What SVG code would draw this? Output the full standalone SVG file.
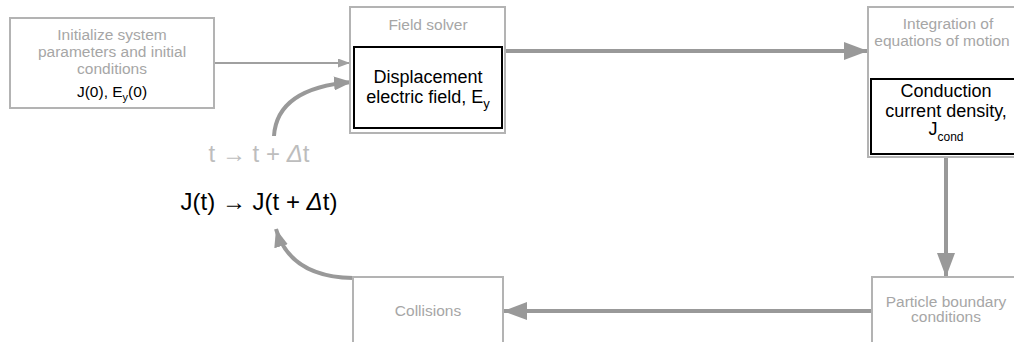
<svg xmlns="http://www.w3.org/2000/svg" width="1014" height="342" viewBox="0 0 1014 342">
<style>
.box{fill:#fff;stroke:#b3b3b3;stroke-width:2}
.inner{fill:#fff;stroke:#000;stroke-width:2}
.gt{font-family:"Liberation Sans",Arial,sans-serif;font-size:15.5px;fill:#a6a6a6;text-anchor:middle}
.bt{font-family:"Liberation Sans",Arial,sans-serif;font-size:15.5px;fill:#000;text-anchor:middle}
.big{font-family:"Liberation Sans",Arial,sans-serif;font-size:18px;fill:#000;text-anchor:middle}
.eq{font-family:"Liberation Sans",Arial,sans-serif;font-size:24px;text-anchor:middle}
.thin{fill:none;stroke:#a0a0a0;stroke-width:2}
.thick{fill:none;stroke:#999;stroke-width:4}
</style>
<defs>
<marker id="ah" markerUnits="userSpaceOnUse" markerWidth="24" markerHeight="18" refX="24" refY="9" orient="auto"><path d="M0,0 L24,9 L0,18 z" fill="#999"/></marker>
<marker id="ahc" markerUnits="userSpaceOnUse" markerWidth="18" markerHeight="14" refX="18" refY="7" orient="auto"><path d="M0,0 L18,7 L0,14 z" fill="#999"/></marker>
<marker id="ahs" markerUnits="userSpaceOnUse" markerWidth="12" markerHeight="9" refX="12" refY="4.5" orient="auto"><path d="M0,0 L12,4.5 L0,9 z" fill="#a0a0a0"/></marker>
</defs>
<g id="connectors">
<path class="thin" d="M214,63 L350,63" marker-end="url(#ahs)"/>
<path class="thick" d="M505,51 L868,51" marker-end="url(#ah)"/>
<path class="thick" d="M946,157 L946,277" marker-end="url(#ah)"/>
<path class="thick" d="M872,311 L503,311" marker-end="url(#ah)"/>
<path class="thick" d="M353,278 Q290,277 276,229" marker-end="url(#ahc)"/>
<path class="thick" d="M274,136 Q277,88 352,82" marker-end="url(#ahc)"/>
</g>
<g id="init">
<rect class="box" x="10" y="18" width="204" height="90"/>
<text class="gt" x="112" y="40">Initialize system</text>
<text class="gt" x="112" y="57">parameters and initial</text>
<text class="gt" x="112" y="74">conditions</text>
<text class="bt" x="112" y="97">J(0), E<tspan font-size="11" dy="4">y</tspan><tspan dy="-4">(0)</tspan></text>
</g>
<g id="field">
<rect class="box" x="350" y="7" width="155" height="126"/>
<text class="gt" x="428" y="30">Field solver</text>
<rect class="inner" x="354" y="47" width="148" height="81"/>
<text class="big" x="428" y="83">Displacement</text>
<text class="big" x="428" y="103">electric field, E<tspan font-size="13" dy="5">y</tspan></text>
</g>
<g id="integration">
<rect class="box" x="868" y="7" width="160" height="150"/>
<text class="gt" x="948" y="29">Integration of</text>
<text class="gt" x="942" y="46">equations of motion</text>
<rect class="inner" x="871" y="79" width="150" height="75"/>
<text class="big" x="946" y="97">Conduction</text>
<text class="big" x="946" y="117">current density,</text>
<text class="big" x="946" y="135">J<tspan font-size="12" dy="6">cond</tspan></text>
</g>
<g id="particle">
<rect class="box" x="872" y="277" width="160" height="80"/>
<text class="gt" x="946" y="307">Particle boundary</text>
<text class="gt" x="946" y="322">conditions</text>
</g>
<g id="collisions">
<rect class="box" x="353" y="277" width="150" height="80"/>
<text class="gt" x="428" y="316">Collisions</text>
</g>
<g id="timestep">
<text class="eq" x="259" y="162" fill="#bdbdbd">t → t + <tspan font-style="italic">Δ</tspan>t</text>
</g>
<g id="current">
<text class="eq" x="259" y="210" fill="#000">J(t) → J(t + <tspan font-style="italic">Δ</tspan>t)</text>
</g>
</svg>
